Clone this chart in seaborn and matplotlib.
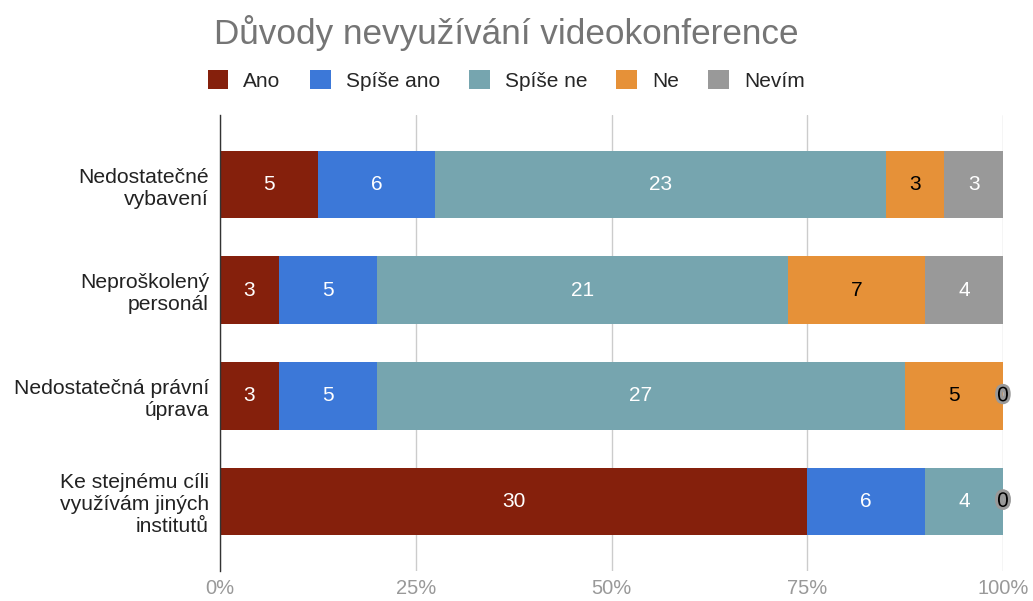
import matplotlib
matplotlib.use("Agg")
import matplotlib.pyplot as plt
import matplotlib.patheffects as pe
from matplotlib.patches import Patch
import seaborn as sns
import pandas as pd
import numpy as np

categories = ["Nedostatečné\nvybavení", "Neproškolený\npersonál",
              "Nedostatečná právní\núprava", "Ke stejnému cíli\nvyužívám jiných\ninstitutů"]
series = ["Ano", "Spíše ano", "Spíše ne", "Ne", "Nevím"]
ano = [5, 3, 3, 30]
spise_ano = [6, 5, 5, 6]
spise_ne = [23, 21, 27, 4]
ne = [3, 7, 5, 0]
nevim = [3, 4, 0, 0]
colors = ["#85200c", "#3c78d8", "#76a5af", "#e69138", "#999999"]
text_colors = ["white", "white", "white", "black", "white"]
xticks = [0, 25, 50, 75, 100]
xticklabels = ["0%", "25%", "50%", "75%", "100%"]

sns.set_style("white")
plt.rcParams["font.family"] = ["Liberation Sans", "DejaVu Sans"]

vals = np.array([ano, spise_ano, spise_ne, ne, nevim], dtype=float)
totals = vals.sum(axis=0)
pct = vals / totals * 100
cum = np.cumsum(pct, axis=0)

fig = plt.figure(figsize=(10.33, 6.01), dpi=100)
ax = fig.add_axes([0.213, 0.05, 0.758, 0.7587])

for i in range(len(series) - 1, -1, -1):
    df = pd.DataFrame({"cat": categories, "v": cum[i]})
    sns.barplot(data=df, y="cat", x="v", orient="h", color=colors[i],
                width=0.64, ax=ax, saturation=1, linewidth=0)

for i in range(len(series)):
    for j in range(len(categories)):
        start = cum[i][j] - pct[i][j]
        mid = start + pct[i][j] / 2
        v = int(vals[i][j])
        if v == 0:
            t = ax.text(cum[i][j], j, "0", ha="center", va="center",
                        fontsize=15, color="black", zorder=5)
            t.set_path_effects([pe.withStroke(linewidth=4, foreground="#999999")])
        else:
            ax.text(mid, j, str(v), ha="center", va="center",
                    fontsize=15, color=text_colors[i], zorder=5)

ax.set_xlim(0, 100)
ax.set_ylim(3.66, -0.66)
ax.set_xticks(xticks)
ax.set_xticklabels(xticklabels, fontsize=14.5, color="#999999")
ax.tick_params(axis="x", length=0, pad=6)
ax.tick_params(axis="y", length=0, pad=8)
for lbl in ax.get_yticklabels():
    lbl.set_fontsize(15.2)
    lbl.set_color("#222222")
    lbl.set_ha("right")
    lbl.set_multialignment("right")
ax.set_xlabel("")
ax.set_ylabel("")
ax.grid(axis="x", color="#cccccc", linewidth=1)
ax.set_axisbelow(True)
for s in ["top", "right", "bottom"]:
    ax.spines[s].set_visible(False)
ax.spines["left"].set_color("#333333")
ax.spines["left"].set_linewidth(1)

fig.text(0.49, 0.945, "Důvody nevyužívání videokonference", ha="center", va="center",
         fontsize=25.3, color="#757575")
handles = [Patch(facecolor=c, edgecolor="none") for c in colors]
fig.legend(handles, series, loc="center", bbox_to_anchor=(0.49, 0.866), ncol=5,
           frameon=False, fontsize=15, handlelength=1.0, handleheight=1.0,
           handletextpad=0.72, columnspacing=1.4)

fig.savefig("out.png", dpi=100)
